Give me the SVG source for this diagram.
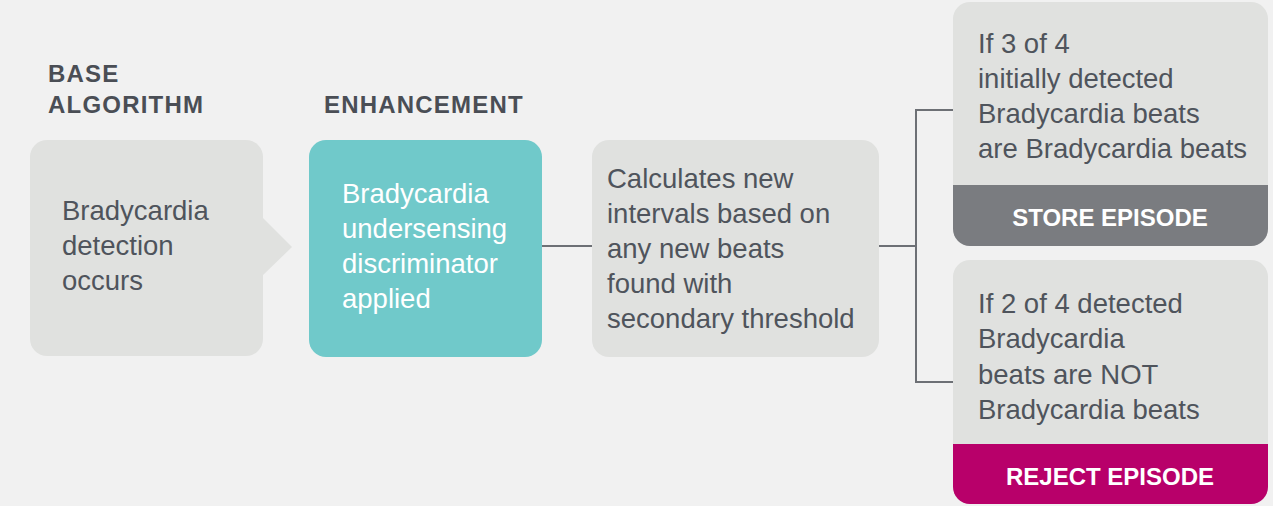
<svg xmlns="http://www.w3.org/2000/svg" width="1273" height="506" viewBox="0 0 1273 506">
<style>
.bg{fill:#f1f1f1}
.box{fill:#e0e1df}
.hdr{font-family:"Liberation Sans",Arial,sans-serif;font-weight:bold;font-size:24px;fill:#4a4e55;letter-spacing:1.2px}
.txt{font-family:"Liberation Sans",Arial,sans-serif;font-size:27.5px;fill:#4f545c}
.wt{font-family:"Liberation Sans",Arial,sans-serif;font-size:27.5px;fill:#ffffff}
.band{font-family:"Liberation Sans",Arial,sans-serif;font-weight:bold;font-size:24px;fill:#ffffff;text-anchor:middle}
.conn{stroke:#6d7075;stroke-width:2;fill:none}
</style>
<defs>
<clipPath id="c4"><rect x="953" y="2" width="315" height="244" rx="17"/></clipPath>
<clipPath id="c5"><rect x="953" y="260" width="315" height="244" rx="17"/></clipPath>
</defs>
<rect class="bg" x="0" y="0" width="1273" height="506"/>
<g id="headers">
<text class="hdr" x="48" y="82">BASE</text>
<text class="hdr" x="48" y="113">ALGORITHM</text>
<text class="hdr" x="324" y="113">ENHANCEMENT</text>
</g>
<g id="connectors">
<line class="conn" x1="542" y1="246" x2="592" y2="246"/>
<line class="conn" x1="879" y1="246" x2="916" y2="246"/>
<polyline class="conn" points="953,110 916,110 916,382 953,382"/>
</g>
<g id="node-detection">
<rect class="box" x="30" y="140" width="233" height="216" rx="17"/>
<polygon class="box" points="262,217 292,247 262,276"/>
<text class="txt" x="62" y="220">Bradycardia</text>
<text class="txt" x="62" y="255">detection</text>
<text class="txt" x="62" y="290">occurs</text>
</g>
<g id="node-discriminator">
<rect fill="#70c9ca" x="309" y="140" width="233" height="217" rx="17"/>
<text class="wt" x="342" y="203">Bradycardia</text>
<text class="wt" x="342" y="238">undersensing</text>
<text class="wt" x="342" y="273">discriminator</text>
<text class="wt" x="342" y="308">applied</text>
</g>
<g id="node-calculates">
<rect class="box" x="592" y="140" width="287" height="217" rx="17"/>
<text class="txt" x="607" y="188">Calculates new</text>
<text class="txt" x="607" y="223">intervals based on</text>
<text class="txt" x="607" y="258">any new beats</text>
<text class="txt" x="607" y="293">found with</text>
<text class="txt" x="607" y="328">secondary threshold</text>
</g>
<g id="node-store">
<g clip-path="url(#c4)">
<rect class="box" x="953" y="2" width="315" height="244"/>
<rect fill="#7a7c80" x="953" y="185" width="315" height="61"/>
</g>
<text class="txt" x="978" y="53">If 3 of 4</text>
<text class="txt" x="978" y="88">initially detected</text>
<text class="txt" x="978" y="123">Bradycardia beats</text>
<text class="txt" x="978" y="158">are Bradycardia beats</text>
<text class="band" x="1110" y="226">STORE EPISODE</text>
</g>
<g id="node-reject">
<g clip-path="url(#c5)">
<rect class="box" x="953" y="260" width="315" height="244"/>
<rect fill="#b8006a" x="953" y="444" width="315" height="60"/>
</g>
<text class="txt" x="978" y="313">If 2 of 4 detected</text>
<text class="txt" x="978" y="348">Bradycardia</text>
<text class="txt" x="978" y="384">beats are NOT</text>
<text class="txt" x="978" y="419">Bradycardia beats</text>
<text class="band" x="1110" y="485">REJECT EPISODE</text>
</g>
</svg>
